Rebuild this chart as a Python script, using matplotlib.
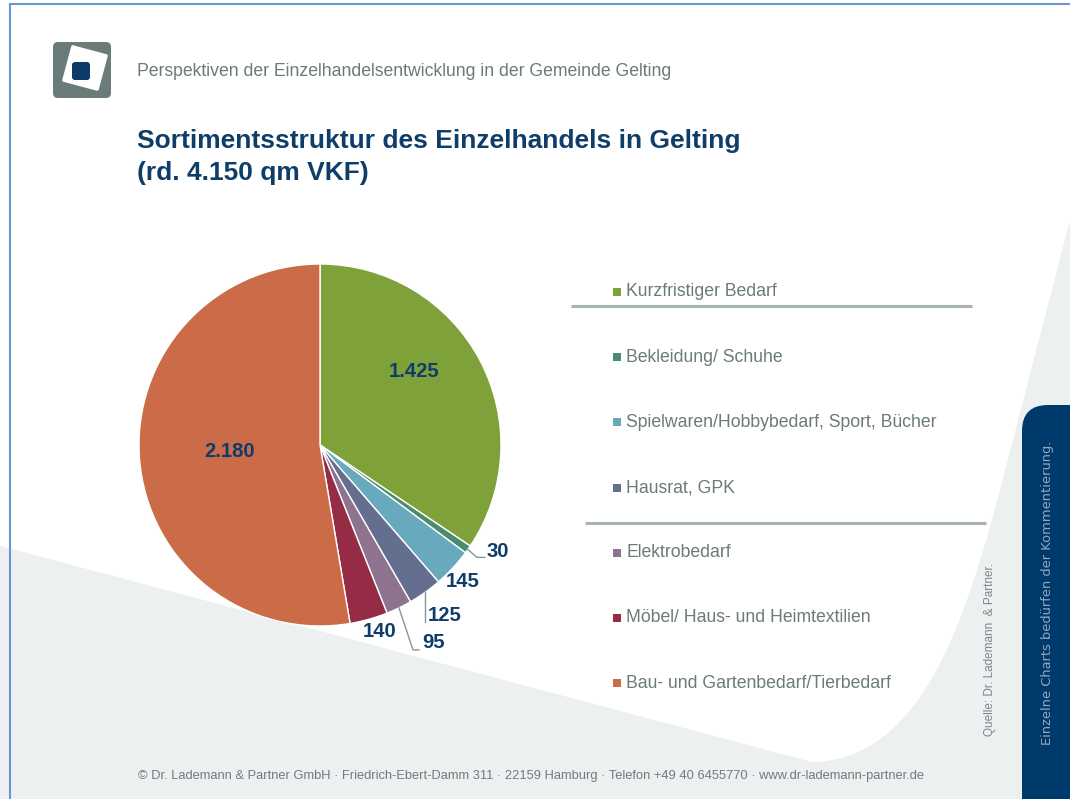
import matplotlib
matplotlib.use('Agg')
import matplotlib.pyplot as plt
from matplotlib.patches import FancyBboxPatch, Polygon, PathPatch
from matplotlib.path import Path
import numpy as np

# ---------------- data ----------------
categories = ["Kurzfristiger Bedarf", "Bekleidung/ Schuhe",
              "Spielwaren/Hobbybedarf, Sport, Bücher", "Hausrat, GPK",
              "Elektrobedarf", "Möbel/ Haus- und Heimtextilien",
              "Bau- und Gartenbedarf/Tierbedarf"]
values = [1425, 30, 145, 125, 95, 140, 2180]
value_labels = ["1.425", "30", "145", "125", "95", "140", "2.180"]
colors = ["#7ea13a", "#4b8c6e", "#68a9bd", "#646e8e", "#8e738f", "#952b45", "#cb6b48"]

header = "Perspektiven der Einzelhandelsentwicklung in der Gemeinde Gelting"
title_lines = ["Sortimentsstruktur des Einzelhandels in Gelting", "(rd. 4.150 qm VKF)"]
footer = ("© Dr. Lademann & Partner GmbH · Friedrich-Ebert-Damm 311 · 22159 Hamburg · "
          "Telefon +49 40 6455770 · www.dr-lademann-partner.de")
source = "Quelle: Dr. Lademann  & Partner."
side_note = "Einzelne Charts bedürfen der Kommentierung."

NAVY = "#0f3d6a"
GREY_TXT = "#6b7a7a"
BG_GREY = "#edf0f0"

W, H = 1070, 799
fig = plt.figure(figsize=(10.7, 7.99), dpi=100)
ax = fig.add_axes([0, 0, 1, 1])

# ---------------- pie ----------------
cx, cy, R = 320, 445, 181
wedges, _ = ax.pie(values, colors=colors, startangle=-90, counterclock=True,
                   center=(cx, cy), radius=R,
                   wedgeprops=dict(edgecolor="white", linewidth=1.0, zorder=3))
ax.set_xlim(0, W)
ax.set_ylim(H, 0)
ax.set_aspect('auto')
ax.axis('off')

# background (white with grey swoosh)
ax.add_patch(plt.Rectangle((0, 0), W, H, facecolor=BG_GREY, edgecolor='none', zorder=0))
verts = [(0, 0), (W + 5, 0), (W + 5, 215), (1070, 220), (1013, 440),
         (975, 585), (935, 760), (812, 762), (12, 549), (0, 546), (0, 0)]
codes = [Path.MOVETO, Path.LINETO, Path.LINETO, Path.LINETO, Path.LINETO,
         Path.CURVE4, Path.CURVE4, Path.CURVE4, Path.LINETO, Path.LINETO, Path.CLOSEPOLY]
ax.add_patch(PathPatch(Path(verts, codes), facecolor='white', edgecolor='none', zorder=0.5))

# frame line
ax.plot([9.5, 9.5], [4, H], color="#6b96d6", lw=1.5, zorder=5)
ax.plot([9.5, W], [4, 4], color="#6b96d6", lw=1.5, zorder=5)

# right navy panel
ax.add_patch(FancyBboxPatch((1022, 405), 80, 450, boxstyle="round,pad=0,rounding_size=26",
                            facecolor="#003a6c", edgecolor='none', zorder=2))
ax.text(1048, 593, side_note, rotation=90, ha='center', va='center', color="#93a8bf",
        fontsize=9.4, family=['DejaVu Sans'], zorder=6)
ax.text(990, 650, source, rotation=90, ha='center', va='center', color="#7c8787",
        fontsize=8.5, family=['Liberation Sans', 'DejaVu Sans'], zorder=6)

# logo
ax.add_patch(FancyBboxPatch((53, 42), 58, 56, boxstyle="round,pad=0,rounding_size=5",
                            facecolor="#6b7b7a", edgecolor='none', zorder=2))
ang = np.deg2rad(15)
rot = np.array([[np.cos(ang), -np.sin(ang)], [np.sin(ang), np.cos(ang)]])
sq = np.array([[-17.5, -17.5], [17.5, -17.5], [17.5, 17.5], [-17.5, 17.5]]) @ rot.T + [85, 68]
ax.add_patch(Polygon(sq, closed=True, facecolor='white', edgecolor='white', lw=2,
                     joinstyle='round', zorder=3))
ax.add_patch(FancyBboxPatch((72, 62), 18, 18, boxstyle="round,pad=0,rounding_size=3",
                            facecolor="#0d3a66", edgecolor='none', zorder=4))

# header & title
ax.text(137, 71, header, ha='left', va='center', color=GREY_TXT, fontsize=12.7,
        family=['Liberation Sans', 'DejaVu Sans'], zorder=6)
ax.text(137, 148, title_lines[0], ha='left', va='baseline', color=NAVY, fontsize=19,
        fontweight='bold', family=['Liberation Sans', 'DejaVu Sans'], zorder=6)
ax.text(137, 180, title_lines[1], ha='left', va='baseline', color=NAVY, fontsize=19,
        fontweight='bold', family=['Liberation Sans', 'DejaVu Sans'], zorder=6)

# footer
ax.text(531, 776, footer, ha='center', va='center', color="#6f7b7b", fontsize=9.3,
        family=['Liberation Sans', 'DejaVu Sans'], zorder=6)

# ---------------- value labels ----------------
lab_font = dict(color=NAVY, fontsize=14.6, fontweight='bold',
                family=['Liberation Sans', 'DejaVu Sans'], zorder=7)
lead_kw = dict(color="#8a9696", lw=1.0, zorder=7)


def mid_angle(w):
    return np.deg2rad((w.theta1 + w.theta2) / 2.0)


def pt(theta, frac):
    return cx + frac * R * np.cos(theta), cy + frac * R * np.sin(theta)


# inner labels
inner = {0: (-9.75, 0.66), 6: (1.0, 0.503)}
for i, (off, frac) in inner.items():
    th = mid_angle(wedges[i]) + np.deg2rad(off)
    x, y = pt(th, frac)
    ax.text(x, y, value_labels[i], ha='center', va='center', **lab_font)

# outer labels without leader
outer = {2: (0.8, 1.09), 5: (-2.0, 1.08)}
for i, (off, frac) in outer.items():
    th = mid_angle(wedges[i]) + np.deg2rad(off)
    x, y = pt(th, frac)
    ax.text(x, y, value_labels[i], ha='center', va='center', **lab_font)

# outer labels with leader lines: elbow offset, horizontal tail, text offset
leader = {1: ((9, 8), 8, (2, -6)),
          3: ((0, 30), 0, (3, -7)),
          4: ((14, 42), 6, (3, -7))}
for i, (elb, tail, toff) in leader.items():
    th = mid_angle(wedges[i])
    x0, y0 = pt(th, 1.0)
    x1, y1 = x0 + elb[0], y0 + elb[1]
    x2, y2 = x1 + tail, y1
    ax.plot([x0, x1, x2], [y0, y1, y2], **lead_kw)
    ax.text(x2 + toff[0], y2 + toff[1], value_labels[i], ha='left', va='center', **lab_font)

# ---------------- legend ----------------
leg_y0, leg_dy = 292, 65.2
for k, (cat, col) in enumerate(zip(categories, colors)):
    y = leg_y0 + k * leg_dy
    ax.add_patch(plt.Rectangle((613, y - 4), 8, 8, facecolor=col, edgecolor='none', zorder=6))
    ax.text(626, y, cat, ha='left', va='center', color=GREY_TXT, fontsize=12.7,
            family=['Liberation Sans', 'DejaVu Sans'], zorder=6)

ax.plot([571, 972], [306, 306], color="#a8b4b3", lw=2.2, zorder=6, solid_capstyle='butt')
ax.plot([585, 986], [523, 523], color="#a8b4b3", lw=2.2, zorder=6, solid_capstyle='butt')

fig.savefig("out.png", dpi=100)
